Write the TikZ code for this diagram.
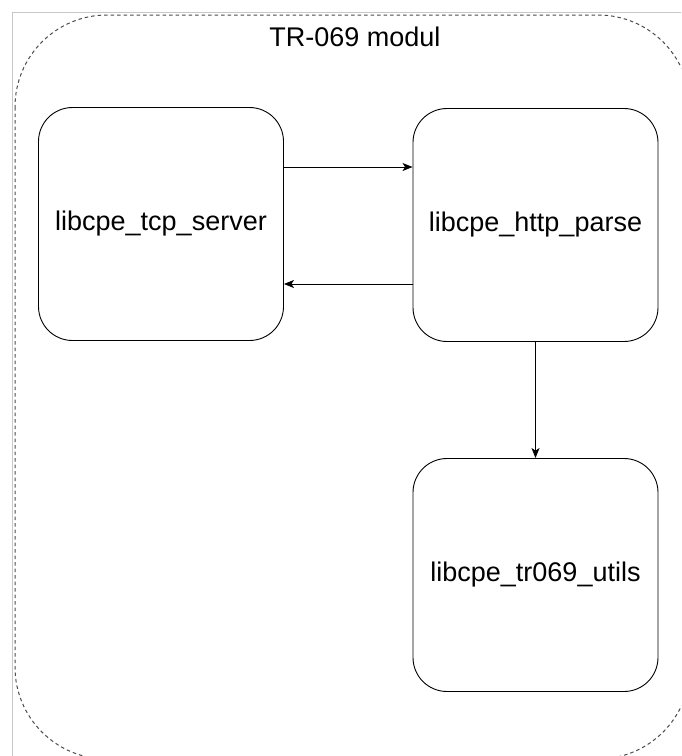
\documentclass[tikz,border=0pt]{standalone}
\usepackage{fontspec}
\setmainfont{Liberation Sans}
\usetikzlibrary{arrows.meta}
\begin{document}
\begin{tikzpicture}[x=1pt,y=-1pt,
  module/.style={draw, line width=0.9pt, rounded corners=34pt, fill=white,
    minimum width=245pt, minimum height=233pt, inner sep=0pt,
    font=\fontsize{27}{32}\selectfont},
  frame/.style={draw=black!70, line width=1pt, dash pattern=on 3.5pt off 3pt, rounded corners=92pt},
  arr/.style={draw, line width=0.9pt, -{Stealth[length=10pt,width=8pt,inset=2.5pt]}}]
  \useasboundingbox (0,0) rectangle (681,756);
  \clip (0,0) rectangle (681,756);
  \fill[white] (0,0) rectangle (681,756);
  % outer page frame
  \draw[black!22, line width=1pt] (12.5,12.5) rectangle (720,800);
  % dashed module container
  \draw[frame] (15,15) rectangle (690,759);
  \node[font=\fontsize{27}{32}\selectfont] (title) at (355,37) {TR-069 modul};
  % library blocks
  \node[module] (tcp) at (161,224) {libcpe\_tcp\_server};
  \node[module] (http) at (535.5,225) {libcpe\_http\_parse};
  \node[module] (utils) at (535.5,575) {libcpe\_tr069\_utils};
  % connections
  \draw[arr] ([yshift=57pt]tcp.east) -- ([yshift=57pt]tcp.east -| http.west);
  \draw[arr] ([yshift=-59pt]http.west) -- ([yshift=-59pt]http.west -| tcp.east);
  \draw[arr] (http.south) -- (utils.north);
\end{tikzpicture}
\end{document}
